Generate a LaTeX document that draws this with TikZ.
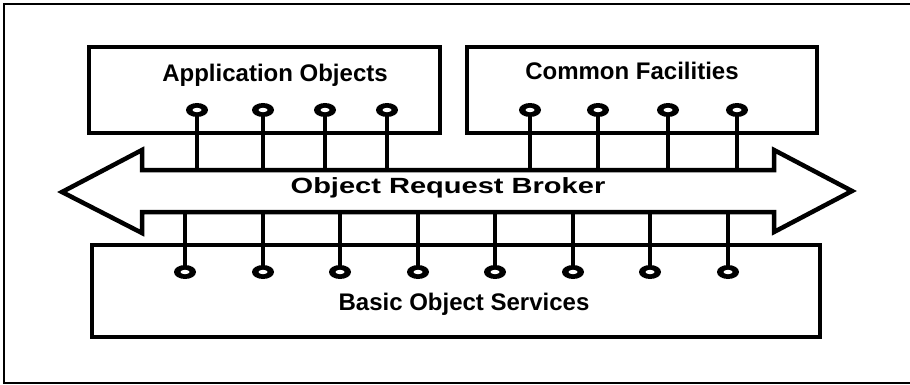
\documentclass[tikz,border=0pt]{standalone}
\usepackage{fontspec}
\setmainfont{Liberation Sans}
\usetikzlibrary{shapes.geometric}
\begin{document}
\begin{tikzpicture}[x=1pt,y=-1pt,
  frame/.style={line width=2.2pt},
  box/.style={draw, line width=4.5pt, rectangle, inner sep=0pt},
  layer/.style={font=\fontsize{24}{26}\selectfont\bfseries, anchor=base, inner sep=0pt},
  bus/.style={line width=4.5pt, line join=miter},
  sock/.style={ellipse, fill=black, minimum width=22pt, minimum height=14pt, inner sep=0pt,
    path picture={\fill[white] (path picture bounding box.center) ellipse (4.5pt and 2.2pt);}},
  stem/.style={line width=3.5pt}]
\useasboundingbox (0,0) rectangle (910,385);
\fill[white] (0,0) rectangle (910,385);

% surrounding frame, open on the right
\draw[frame] (910,4) -- (4,4) -- (4,383) -- (910,383);

% the three layers of objects
\node[box, minimum width=351pt, minimum height=86pt] (app) at (264.5,90) {};
\node[box, minimum width=350pt, minimum height=86pt] (cf)  at (642,90) {};
\node[box, minimum width=728pt, minimum height=92pt] (bos) at (456,291) {};
\node[layer] (applbl) at (275,82) {Application Objects};
\node[layer] (cflbl)  at (632,80) {Common Facilities};
\node[layer] (boslbl) at (464,310) {Basic Object Services};

% the broker: a double-headed arrow
\draw[bus] (142,170) -- (142,150) -- (62,192) -- (142,233) -- (142,212)
  -- (774,212) -- (774,232) -- (852,191) -- (774,150) -- (774,170) -- cycle;
\node[font=\fontsize{22}{24}\selectfont\bfseries, anchor=base, inner sep=0pt] (orb) at (448,193)
  {\scalebox{1.32}[1]{Object Request Broker}};

% interfaces of the upper layers, plugged into the top of the bus
\foreach \x [count=\i] in {197,263,325,387} {
  \node[sock] (a\i) at (\x,110) {};
  \coordinate (ae\i) at (\x,170);
  \draw[stem] (a\i.south) -- (ae\i);
}
\foreach \x [count=\i] in {530,598,668,737} {
  \node[sock] (c\i) at (\x,110) {};
  \coordinate (ce\i) at (\x,170);
  \draw[stem] (c\i.south) -- (ce\i);
}
% interfaces of the basic services, hanging from the bottom of the bus
\foreach \x [count=\i] in {185,263,340,418,495,573,650,728} {
  \node[sock] (b\i) at (\x,272) {};
  \coordinate (be\i) at (\x,212);
  \draw[stem] (be\i) -- (b\i.north);
}
\end{tikzpicture}
\end{document}
